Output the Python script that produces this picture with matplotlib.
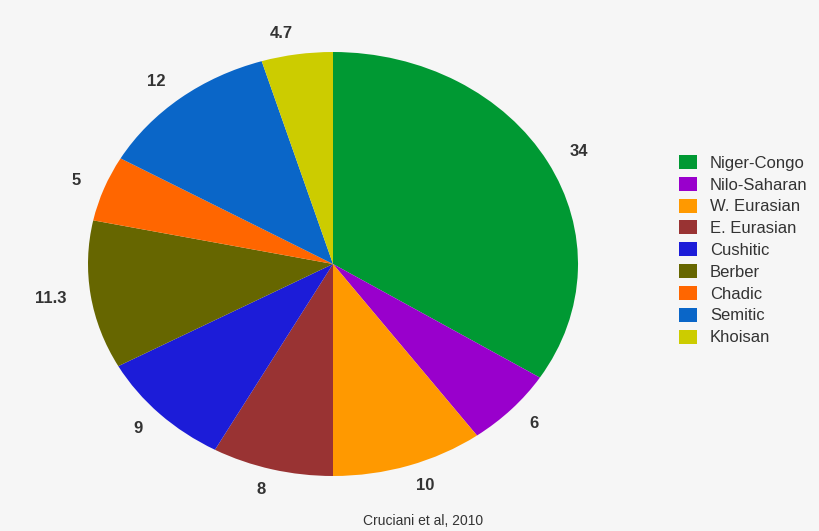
import matplotlib.pyplot as plt
from matplotlib.patches import Patch

# data
groups = ["Niger-Congo", "Nilo-Saharan", "W. Eurasian", "E. Eurasian", "Cushitic",
          "Berber", "Chadic", "Semitic", "Khoisan"]
shares = [34, 6, 10, 8, 9, 11.3, 5, 12, 4.7]
share_labels = ["34", "6", "10", "8", "9", "11.3", "5", "12", "4.7"]
colors = ["#009933", "#9900cc", "#ff9900", "#993333", "#1c1cd8",
          "#666600", "#ff6600", "#0a66c8", "#cccc00"]
source = "Cruciani et al, 2010"

plt.rcParams["font.family"] = ["Liberation Sans", "DejaVu Sans"]
bg = "#f6f6f6"

fig = plt.figure(figsize=(8.19, 5.31), dpi=100, facecolor=bg)
# pie is stretched horizontally in the reference, so keep aspect auto
ax = fig.add_axes([(333 - 245) / 819, (531 - 476) / 531, 490 / 819, 424 / 531])
ax.set_facecolor(bg)

wedges, texts = ax.pie(shares, labels=share_labels, colors=colors, startangle=90,
                       counterclock=False, labeldistance=1.1,
                       textprops=dict(fontsize=12, fontweight="bold", color="#333333"),
                       wedgeprops=dict(linewidth=0))
ax.set_aspect("auto")
ax.set_xlim(-1, 1)
ax.set_ylim(-1, 1)
ax.axis("off")

handles = [Patch(facecolor=c, edgecolor="none") for c in colors]
leg = fig.legend(handles, groups, loc="upper left", bbox_to_anchor=(679 / 819, 1 - 155 / 531),
                 frameon=False, fontsize=12, handlelength=1.05, handleheight=0.9,
                 handletextpad=0.8, labelspacing=0.37, borderaxespad=0, borderpad=0)
for t in leg.get_texts():
    t.set_color("#333333")

fig.text(423 / 819, 1 - 521 / 531, source, ha="center", va="center",
         fontsize=10, color="#333333")

fig.savefig("out.png", dpi=100, facecolor=bg)
